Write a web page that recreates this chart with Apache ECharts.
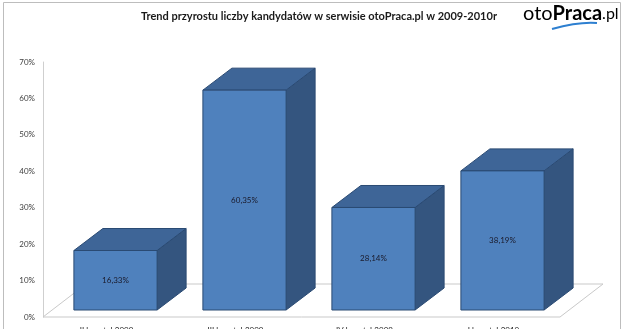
<!DOCTYPE html>
<html>
<head>
<meta charset="utf-8">
<script src="https://cdn.jsdelivr.net/npm/echarts@6/dist/echarts.min.js"></script>
<style>
html,body{margin:0;padding:0;background:#fff;}
#c{width:624px;height:329px;}
</style>
</head>
<body>
<div id="c"></div>
<script>
var categories = ['II kwartał 2009', 'III kwartał 2009', 'IV kwartał 2009', 'I kwartał 2010'];
var values = [16.33, 60.35, 28.14, 38.19];
var valueLabels = ['16,33%', '60,35%', '28,14%', '38,19%'];
var yTicks = [0, 10, 20, 30, 40, 50, 60, 70];

var chart = echarts.init(document.getElementById('c'), null, {renderer: 'canvas'});

var FONT = 'Lato, "Open Sans", sans-serif';
var FRONT = '#4f81bd', TOP = '#3e6597', SIDE = '#34557f', EDGE = '#2a4a73';
var DX = 29, DY = -22, BASE_SHIFT = -7;

function floorItem(params, api) {
  var cs = params.coordSys;
  var y0 = cs.y + cs.height;
  var fl = cs.x - 8, fr = cs.x + cs.width - 7;
  var bx = 43, by = -33;
  return {
    type: 'polygon',
    shape: {points: [[fl, y0], [fr, y0], [fr + bx, y0 + by], [fl + bx, y0 + by]]},
    style: {fill: 'none', stroke: '#c9c9c9', lineWidth: 1},
    silent: true
  };
}

function barItem(params, api) {
  var i = api.value(0), v = api.value(1);
  var base = api.coord([i, 0]);
  var top = api.coord([i, v]);
  var w = api.size([1, 0])[0] * 0.645;
  var x0 = base[0] - w / 2, x1 = base[0] + w / 2;
  var yb = base[1] + BASE_SHIFT, yt = top[1] + BASE_SHIFT;
  return {
    type: 'group',
    children: [
      {type: 'polygon', shape: {points: [[x1, yb], [x1 + DX, yb + DY], [x1 + DX, yt + DY], [x1, yt]]},
        style: {fill: SIDE, stroke: EDGE, lineWidth: 1}},
      {type: 'polygon', shape: {points: [[x0, yt], [x1, yt], [x1 + DX, yt + DY], [x0 + DX, yt + DY]]},
        style: {fill: TOP, stroke: EDGE, lineWidth: 1}},
      {type: 'rect', shape: {x: x0, y: yt, width: w, height: yb - yt},
        style: {fill: FRONT, stroke: EDGE, lineWidth: 1}},
      {type: 'text', x: base[0], y: (yt + yb) / 2,
        style: {text: valueLabels[params.dataIndex], fill: '#1a1a2a', font: '8px ' + FONT, align: 'center', verticalAlign: 'middle'}}
    ]
  };
}

chart.setOption({
  animation: false,
  backgroundColor: '#fff',
  title: {
    text: 'Trend przyrostu liczby kandydatów w serwisie otoPraca.pl w 2009-2010r',
    left: 314, top: 6, textAlign: 'center',
    textStyle: {fontFamily: FONT, fontSize: 11, fontWeight: 'bold', color: '#1a1a1a'}
  },
  grid: {left: 51, top: 62, width: 516, bottom: 12, outerBoundsMode: 'none', containLabel: false},
  xAxis: {
    type: 'category', data: categories,
    axisLine: {show: false}, axisTick: {show: false},
    axisLabel: {margin: 9, fontFamily: FONT, fontSize: 8, color: '#222', padding: [0, 18, 0, 0], interval: 0}
  },
  yAxis: {
    type: 'value', min: 0, max: 70, interval: 10, offset: 8,
    axisLine: {show: true, lineStyle: {color: '#cfcfcf'}},
    axisTick: {show: false},
    splitLine: {show: false},
    axisLabel: {margin: 8, fontFamily: FONT, fontSize: 8, color: '#404040',
      formatter: function (v) { return yTicks.indexOf(v) >= 0 ? v + '%' : ''; }}
  },
  series: [
    {type: 'custom', renderItem: floorItem, data: [[0, 0]], silent: true, z: 1, clip: false},
    {type: 'custom', renderItem: barItem, z: 2, clip: false,
      data: values.map(function (v, i) { return [i, v]; })}
  ],
  graphic: [
    {type: 'rect', shape: {x: 3.5, y: 2.5, width: 617, height: 340}, style: {fill: 'none', stroke: '#bdbdbd', lineWidth: 1}, silent: true, z: 10},
    {type: 'text', left: 523, top: 4, z: 10,
      style: {rich: {
        a: {fontFamily: FONT, fontSize: 20, color: '#4d4d4d'},
        b: {fontFamily: FONT, fontSize: 20, color: '#2d7fd0', fontWeight: 'bold'},
        c: {fontFamily: FONT, fontSize: 16, color: '#4d4d4d'}
      }, text: '{a|oto}{b|Praca}{c|.pl}'}},
    {type: 'bezierCurve', z: 10, shape: {x1: 552, y1: 29, x2: 597, y2: 23, cpx1: 570, cpy1: 24, cpx2: 585, cpy2: 22},
      style: {stroke: '#2d7fd0', lineWidth: 2, fill: 'none'}}
  ]
});
</script>
</body>
</html>
